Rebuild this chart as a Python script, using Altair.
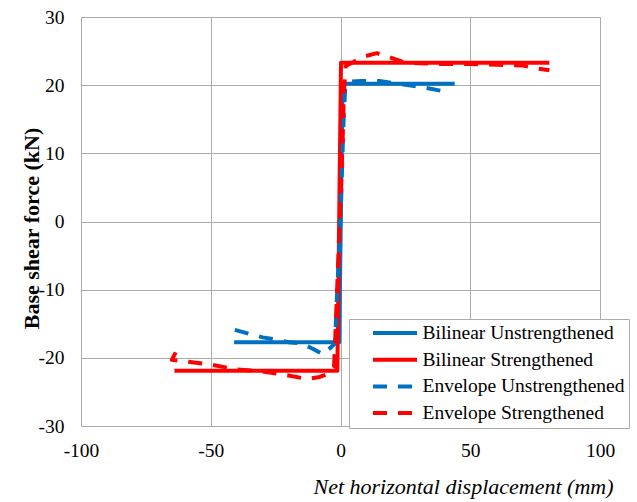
import altair as alt
import pandas as pd

# Series names, colours and dash patterns
SERIES = ["Bilinear Unstrengthened", "Bilinear Strengthened",
          "Envelope Unstrengthened", "Envelope Strengthened"]
COLORS = ["#0070C0", "#FF0000", "#0070C0", "#FF0000"]
DASHES = [[1, 0], [1, 0], [14, 11], [14, 11]]

# Bilinear idealisations (displacement mm, shear kN)
bil_un_x = [-41.0, -0.5, 0.8, 44.0]
bil_un_y = [-17.7, -17.7, 20.2, 20.2]
bil_st_x = [-64.0, -1.2, 0.2, 80.5]
bil_st_y = [-21.9, -21.9, 23.3, 23.3]

# Envelope curves from the cyclic tests
env_un_x = [-40.7, -35, -30, -25, -20, -15, -10.5, -6.7, -2.1, -1.6, -1.0,
            -0.4, 0.2, 0.7, 1.2, 1.8, 3, 8, 15, 22, 30, 38.5]
env_un_y = [-15.9, -16.5, -17.0, -17.3, -17.7, -17.9, -18.7, -19.5, -17.9,
            -13, -8, -3, 3, 9, 15, 19.5, 20.5, 20.6, 20.6, 20.2, 19.8, 19.2]
env_st_x = [-63.5, -65.0, -60, -50, -40, -30, -20, -13, -8, -4.5, -2.5,
            -2.0, -1.4, -0.8, -0.2, 0.4, 0.9, 1.3, 2.0, 5, 9, 14, 19, 24,
            30, 40, 50, 60, 70, 75, 80.5]
env_st_y = [-19.2, -20.3, -20.5, -21.0, -21.7, -22.0, -22.6, -23.1, -22.8,
            -22.3, -21.4, -17, -11, -5, 1, 7, 13, 19, 22.8, 23.4, 24.2,
            24.7, 24.1, 23.4, 23.2, 23.1, 23.1, 23.0, 22.9, 22.5, 22.2]

X_TICKS = [-100, -50, 0, 50, 100]
Y_TICKS = [-30, -20, -10, 0, 10, 20, 30]

rows = []
for name, kind, xs, ys in [
    (SERIES[0], "bilinear", bil_un_x, bil_un_y),
    (SERIES[1], "bilinear", bil_st_x, bil_st_y),
    (SERIES[2], "envelope", env_un_x, env_un_y),
    (SERIES[3], "envelope", env_st_x, env_st_y),
]:
    for i, (x, y) in enumerate(zip(xs, ys)):
        rows.append({"series": name, "kind": kind, "idx": i, "disp": x, "force": y})
df = pd.DataFrame(rows)

SERIF = "'Liberation Serif', 'Times New Roman', Times, serif"
GRID = "#ababab"
PLAIN_LABEL = "'' + datum.value"

x_enc = alt.X("disp:Q",
              scale=alt.Scale(domain=[-100, 100], nice=False),
              axis=alt.Axis(values=X_TICKS, title="Net horizontal displacement (mm)",
                            titleFontStyle="italic", titleFontWeight="normal",
                            titleFontSize=22, titleAlign="right",
                            titleAnchor="end", titleX=532, titleY=67,
                            titleBaseline="alphabetic", labelPadding=15,
                            labelFlush=False, labelExpr=PLAIN_LABEL))
y_enc = alt.Y("force:Q",
              scale=alt.Scale(domain=[-30, 30], nice=False),
              axis=alt.Axis(values=Y_TICKS, title="Base shear force (kN)",
                            titleFontWeight="bold", titleFontSize=22,
                            titleX=-43, titleY=211, titleAngle=270,
                            titleAlign="center", titleBaseline="alphabetic",
                            labelPadding=17, labelFlush=False,
                            labelExpr=PLAIN_LABEL))
color_enc = alt.Color("series:N",
                      scale=alt.Scale(domain=SERIES, range=COLORS),
                      title=None,
                      legend=alt.Legend(orient="none", legendX=268, legendY=302,
                                        symbolType="stroke", symbolSize=1936,
                                        symbolStrokeWidth=4, clipHeight=20,
                                        rowPadding=6.7, padding=4,
                                        symbolOffset=18, labelOffset=3.5,
                                        labelFont=SERIF, labelFontSize=19.5,
                                        labelColor="black", labelLimit=400,
                                        strokeColor=GRID, fillColor="white"))
dash_enc = alt.StrokeDash("series:N",
                          scale=alt.Scale(domain=SERIES, range=DASHES),
                          title=None)

base = alt.Chart(df).encode(x=x_enc, y=y_enc, color=color_enc,
                            strokeDash=dash_enc, order="idx:Q")

bilinear = base.transform_filter(alt.datum.kind == "bilinear").mark_line(
    strokeWidth=4, strokeJoin="round")
envelope = base.transform_filter(alt.datum.kind == "envelope").mark_line(
    strokeWidth=4, strokeJoin="round", strokeCap="butt")

chart = alt.layer(bilinear, envelope).properties(
    width=519, height=409,
    autosize=alt.AutoSizeParams(type="none"),
    padding={"left": 81, "top": 17, "right": 37, "bottom": 76},
    background="white",
).configure_view(
    stroke=GRID, strokeWidth=1
).configure_axis(
    labelFont=SERIF, labelFontSize=19.5, labelColor="black",
    titleFont=SERIF, titleColor="black",
    grid=True, gridColor=GRID, gridWidth=1,
    domainColor=GRID, domainWidth=1, ticks=False,
)

chart.save("out.html", embed_options={"renderer": "svg", "actions": False})
